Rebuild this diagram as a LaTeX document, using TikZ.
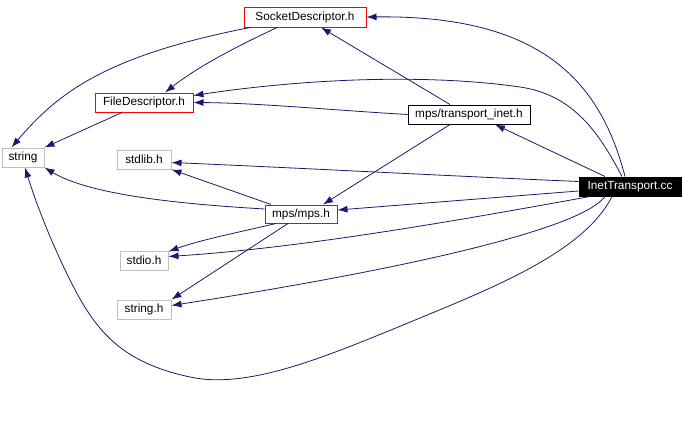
\documentclass[tikz,border=0pt]{standalone}
\usepackage{fontspec}
\setmainfont{Liberation Sans}
\usetikzlibrary{arrows.meta}
\definecolor{edgeblue}{HTML}{191970}
\definecolor{boxgrey}{HTML}{BFBFBF}
\begin{document}
\begin{tikzpicture}[x=1pt,y=-1pt,
  box/.style={draw, line width=1pt, inner sep=0pt, anchor=center, font=\fontsize{11.8}{12}\selectfont},
  redbox/.style={box, draw=red},
  greybox/.style={box, draw=boxgrey},
  blackbox/.style={box, draw=black},
  mainbox/.style={box, draw=black, fill=black, text=white},
  dep/.style={draw=edgeblue, line width=0.8pt, -{Latex[length=10pt,width=7pt]}, fill=none}
]
\useasboundingbox (0,0) rectangle (682,442);
% nodes
\node[redbox, minimum width=122pt, minimum height=20pt] (sock) at (305,17) {SocketDescriptor.h};
\node[redbox, minimum width=98pt, minimum height=19pt] (fd) at (144,102.5) {FileDescriptor.h};
\node[greybox, minimum width=42pt, minimum height=19pt] (str) at (23,157.5) {string};
\node[blackbox, minimum width=122pt, minimum height=19pt] (inet) at (469,114.5) {mps/transport\_inet.h};
\node[mainbox, minimum width=102pt, minimum height=19pt] (main) at (630,186.5) {InetTransport.cc};
\node[greybox, minimum width=54pt, minimum height=19pt] (stdlib) at (144,159.5) {stdlib.h};
\node[redbox, minimum width=72pt, minimum height=18pt] (mps) at (301,214) {mps/mps.h};
\node[greybox, minimum width=48pt, minimum height=19pt] (stdio) at (144,260.5) {stdio.h};
\node[greybox, minimum width=54pt, minimum height=19pt] (strh) at (144,309.5) {string.h};
% edges from InetTransport.cc
\draw[dep] ([xshift=-5pt]main.north) .. controls (600,80) and (540,15) .. (sock.east);
\draw[dep] ([xshift=-8pt]main.north) .. controls (600,135) and (575,95) .. (520,87)
  .. controls (430,74) and (310,78) .. ([yshift=7pt]fd.east);
\draw[dep] ([xshift=-25pt]main.north) -- ([xshift=26pt]inet.south);
\draw[dep] ([yshift=5pt]main.west) .. controls (450,176) and (300,168) .. ([yshift=-3pt]stdlib.east);
\draw[dep] ([yshift=-4.5pt]main.west) -- ([yshift=4pt]mps.east);
\draw[dep] ([xshift=-40pt]main.south) .. controls (450,222) and (300,248) .. ([yshift=4pt]stdio.east);
\draw[dep] ([xshift=-25pt]main.south) .. controls (580,230) and (400,270) .. ([yshift=4pt]strh.east);
\draw[dep] ([xshift=-18pt]main.south) .. controls (585,250) and (500,285) .. (420,318)
  .. controls (330,355) and (250,390) .. (190,377)
  .. controls (120,362) and (95,330) .. (70,280)
  .. controls (50,240) and (35,200) .. ([xshift=2pt]str.south);
% edges from SocketDescriptor.h
\draw[dep] ([xshift=-28pt]sock.south) .. controls (240,45) and (200,65) .. ([xshift=21pt]fd.north);
\draw[dep] ([xshift=-55pt]sock.south) .. controls (110,55) and (60,90) .. ([xshift=10pt]str.north west);
% edge from FileDescriptor.h
\draw[dep] ([xshift=-22pt]fd.south) -- (str.north east);
% edges from mps/transport_inet.h
\draw[dep] ([xshift=-19pt]inet.north) -- ([xshift=16pt]sock.south);
\draw[dep] (inet.west) .. controls (330,110) and (260,103) .. (fd.east);
\draw[dep] ([xshift=-19pt]inet.south) -- ([xshift=22pt]mps.north);
% edges from mps/mps.h
\draw[dep] ([xshift=-30pt]mps.north) -- (stdlib.south east);
\draw[dep] ([yshift=5pt]mps.west) .. controls (180,204) and (90,195) .. (str.south east);
\draw[dep] ([xshift=-25pt]mps.south) .. controls (240,232) and (200,240) .. ([yshift=-1pt]stdio.north east);
\draw[dep] ([xshift=-13pt]mps.south) -- (strh.north east);
\end{tikzpicture}
\end{document}
